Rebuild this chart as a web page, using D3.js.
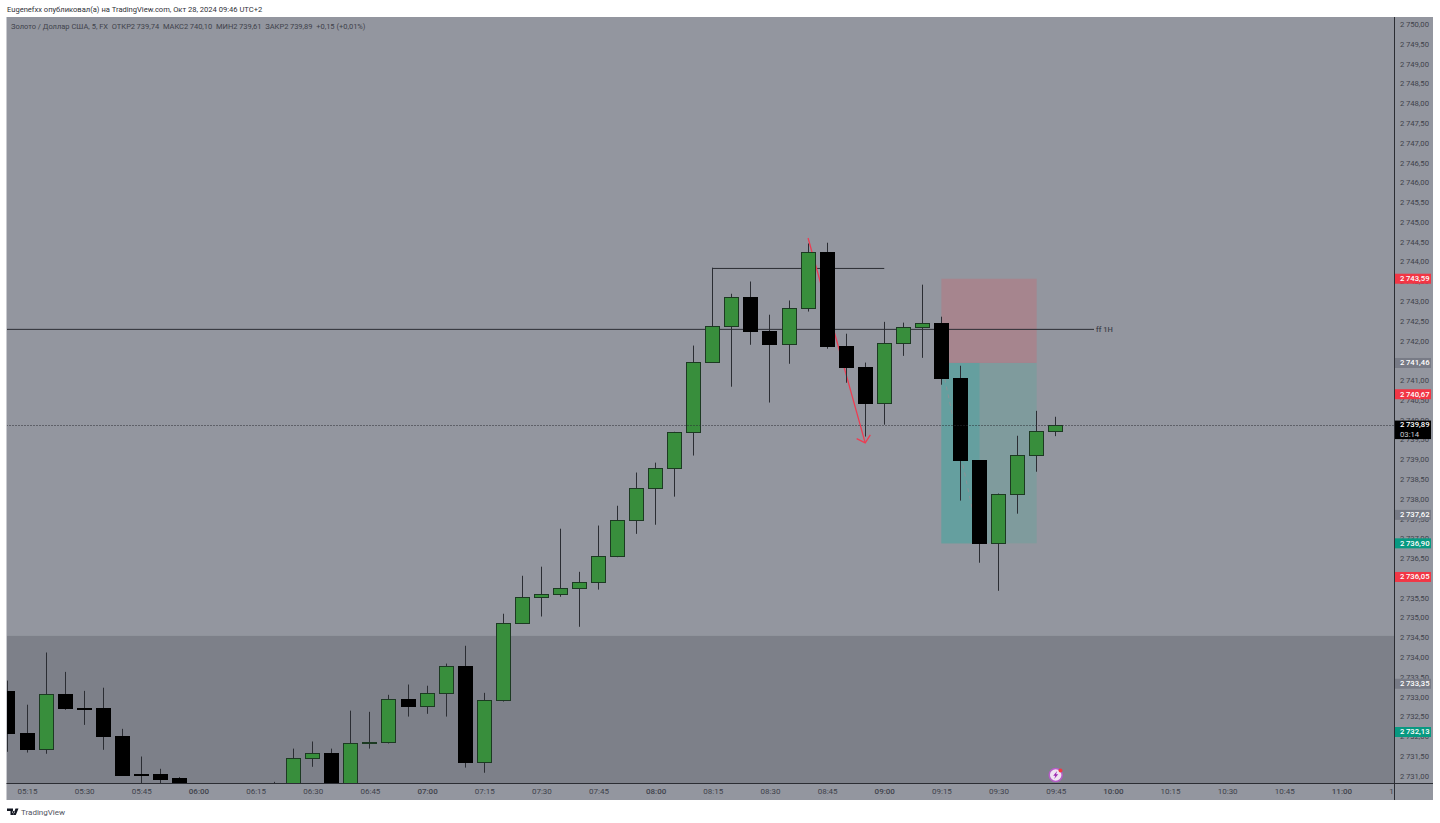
<!DOCTYPE html>
<html><head><meta charset="utf-8">
<script src="https://cdnjs.cloudflare.com/ajax/libs/d3/7.8.5/d3.min.js"></script>
<style>html,body{margin:0;padding:0;background:#fff;overflow:hidden}svg{display:block}text{font-family:Roboto,sans-serif}</style>
</head><body><svg id="c" width="1440" height="823"></svg>
<script>
const times=["05:10","05:15","05:20","05:25","05:30","05:35","05:40","05:45","05:50","05:55","06:20","06:25","06:30","06:35","06:40","06:45","06:50","06:55","07:00","07:05","07:10","07:15","07:20","07:25","07:30","07:35","07:40","07:45","07:50","07:55","08:00","08:05","08:10","08:15","08:20","08:25","08:30","08:35","08:40","08:45","08:50","08:55","09:00","09:05","09:10","09:15","09:20","09:25","09:30","09:35","09:40","09:45"];
const opens=[2733.15,2732.09,2731.68,2733.07,2732.73,2732.72,2732.01,2731.05,2731.05,2730.95,2730.50,2730.80,2731.46,2731.58,2730.65,2731.83,2731.86,2732.95,2732.77,2733.10,2733.78,2731.35,2732.92,2734.87,2735.53,2735.60,2735.75,2735.91,2736.56,2737.47,2738.28,2738.79,2739.70,2741.48,2742.38,2743.11,2742.25,2741.92,2742.83,2744.25,2741.87,2741.34,2740.43,2741.95,2742.35,2742.45,2741.06,2738.99,2736.89,2738.13,2739.12,2739.74];
const highs=[2733.43,2732.82,2734.14,2733.65,2733.17,2733.25,2732.21,2731.51,2731.20,2730.99,2730.87,2731.71,2731.89,2731.71,2732.67,2732.64,2733.07,2733.33,2733.30,2733.86,2734.31,2733.12,2735.12,2736.08,2736.31,2737.27,2736.18,2737.35,2737.85,2738.69,2738.94,2739.72,2741.90,2743.87,2743.21,2743.52,2742.68,2743.04,2744.48,2744.50,2742.20,2741.47,2742.50,2742.48,2743.44,2742.63,2741.39,2738.99,2738.16,2739.62,2740.25,2740.10];
const lows=[2731.63,2731.61,2731.58,2732.69,2732.31,2731.68,2731.03,2730.77,2730.65,2730.60,2730.30,2730.60,2731.25,2730.50,2730.50,2731.71,2731.84,2732.52,2732.59,2732.52,2731.23,2731.10,2732.90,2734.86,2735.05,2735.55,2734.79,2735.73,2736.55,2737.14,2737.37,2738.08,2739.12,2741.47,2740.86,2741.92,2740.46,2741.44,2742.76,2741.82,2740.96,2739.60,2739.90,2741.64,2741.59,2740.91,2737.98,2736.41,2735.70,2737.65,2738.71,2739.61];
const closes=[2732.09,2731.68,2733.07,2732.72,2732.71,2732.01,2731.03,2731.03,2730.92,2730.70,2730.75,2731.46,2731.58,2730.65,2731.83,2731.86,2732.95,2732.77,2733.10,2733.78,2731.35,2732.92,2734.87,2735.53,2735.60,2735.75,2735.91,2736.56,2737.47,2738.28,2738.79,2739.70,2741.48,2742.38,2743.11,2742.25,2741.92,2742.83,2744.25,2741.87,2741.34,2740.43,2741.95,2742.35,2742.45,2741.06,2738.99,2736.89,2738.13,2739.12,2739.72,2739.89];
const priceTicks=d3.range(0,39).map(i=>2731+i*0.5);
const timeTicks=["05:15","05:30","05:45","06:00","06:15","06:30","06:45","07:00","07:15","07:30","07:45","08:00","08:15","08:30","08:45","09:00","09:15","09:30","09:45","10:00","10:15","10:30","10:45","11:00","11:15"];
const labelPrices=[2743.59,2741.46,2740.67,2737.62,2736.90,2736.05,2733.35,2732.13];
const labelKinds=["red","gray","red","gray","teal","red","gray","teal"];
const lastPrice=2739.89, countdown="03:14";
const zoneTop=2734.56, levelPrice=2742.31, levelLabel="ff 1H";
const swingPrice=2743.85, swingStart="08:15", swingEnd="09:00";
const entryPrice=2741.46, stopPrice=2743.59, targetPrice=2736.90, posStart="09:15", posSplit="09:25", posEnd="09:40";
const arrowFrom={t:"08:40",p:2744.62}, arrowTo={t:"08:55",p:2739.44};
const headerText="Eugenefxx опубликовал(а) на TradingView.com, Окт 28, 2024 09:46 UTC+2";
const legendText="Золото / Доллар США, 5, FX  ОТКР2\u2009739,74  МАКС2\u2009740,10  МИН2\u2009739,61  ЗАКР2\u2009739,89  +0,15 (+0,01%)";

const L=6.5,R=1433,T=17,B=800,AX=1394,AY=783;
const mins=s=>{const[a,b]=s.split(":");return +a*60+ +b};
const x=d3.scaleLinear().domain([mins("05:15"),mins("09:45")]).range([27,1055.7]);
const y=d3.scaleLinear().domain([2731,2750]).range([776.7,25.2]);
const fmt=v=>{const s=v.toFixed(2).replace(".",",");return s[0]+"\u2009"+s.slice(1)};
const svg=d3.select("#c");
const INK="#2b2d33", TXT="#3f424b", BG="#93969f";
const defs=svg.append("defs");
defs.append("clipPath").attr("id","plot").append("rect").attr("x",7).attr("y",T).attr("width",AX-7).attr("height",AY-T);
defs.append("clipPath").attr("id","tx").append("rect").attr("x",L).attr("y",AY).attr("width",AX-L).attr("height",B-AY);
svg.append("rect").attr("x",L).attr("y",T).attr("width",R-L).attr("height",B-T).attr("fill",BG);
const plot=svg.append("g").attr("clip-path","url(#plot)");
plot.append("rect").attr("x",L).attr("y",y(zoneTop)).attr("width",AX-L).attr("height",AY-y(zoneTop)).attr("fill","#7d8089");
// position tool
plot.append("rect").attr("x",x(mins(posStart))).attr("y",y(stopPrice)).attr("width",x(mins(posEnd))-x(mins(posStart))).attr("height",y(entryPrice)-y(stopPrice)).attr("fill","#a6858e");
plot.append("rect").attr("x",x(mins(posStart))).attr("y",y(entryPrice)).attr("width",x(mins(posEnd))-x(mins(posStart))).attr("height",y(targetPrice)-y(entryPrice)).attr("fill","#7f9b9d");
plot.append("rect").attr("x",x(mins(posStart))).attr("y",y(entryPrice)).attr("width",x(mins(posSplit))-x(mins(posStart))).attr("height",y(targetPrice)-y(entryPrice)).attr("fill","#659f9f");
plot.append("line").attr("x1",x(mins(posStart))).attr("y1",y(entryPrice)).attr("x2",x(mins(posSplit))).attr("y2",y(targetPrice)).attr("stroke","#8d9297").attr("stroke-dasharray","4 4");
// level line
plot.append("line").attr("x1",L).attr("x2",1094).attr("y1",y(levelPrice)).attr("y2",y(levelPrice)).attr("stroke",INK);
plot.append("text").attr("x",1096).attr("y",y(levelPrice)+3).attr("font-size",7.5).attr("font-weight",500).attr("fill",TXT).text(levelLabel);
// swing line
const cx=t=>Math.floor(x(mins(t)))+.5;
plot.append("line").attr("x1",cx(swingStart)).attr("x2",x(mins(swingEnd))).attr("y1",y(swingPrice)).attr("y2",y(swingPrice)).attr("stroke",INK);
// arrow
const ax0=x(mins(arrowFrom.t)),ay0=y(arrowFrom.p),ax1=x(mins(arrowTo.t)),ay1=y(arrowTo.p);
const ang=Math.atan2(ay1-ay0,ax1-ax0),hl=9.5;
const arrow=d3.line();
plot.append("path").attr("d",arrow([[ax0,ay0],[ax1,ay1]])).attr("stroke","#ee3c52").attr("stroke-width",1.3).attr("fill","none");
plot.append("path").attr("d",arrow([[ax1+hl*Math.cos(ang+2.3),ay1+hl*Math.sin(ang+2.3)],[ax1,ay1],[ax1+hl*Math.cos(ang-2.3),ay1+hl*Math.sin(ang-2.3)]])).attr("stroke","#ee3c52").attr("stroke-width",1.3).attr("fill","none");
// candles
const bars=times.map((t,i)=>({t,o:opens[i],h:highs[i],l:lows[i],c:closes[i]}));
const W=14;
const g=plot.append("g").selectAll("g").data(bars).join("g");
g.append("line").attr("x1",d=>cx(d.t)).attr("x2",d=>cx(d.t)).attr("y1",d=>y(d.h)).attr("y2",d=>y(d.l)).attr("stroke",INK);
g.append("rect").attr("x",d=>cx(d.t)-W/2).attr("width",W)
 .attr("y",d=>Math.floor(y(Math.max(d.o,d.c)))+.5).attr("height",d=>Math.max(1,Math.round(Math.abs(y(d.o)-y(d.c)))))
 .attr("fill",d=>d.c>=d.o?"#388e3c":"#000").attr("stroke",d=>d.c>=d.o?"#1c3a22":"#000");
// last price line
const lpY=Math.round(y(lastPrice))+.5;
plot.append("line").attr("x1",L).attr("x2",AX).attr("y1",lpY).attr("y2",lpY).attr("stroke","#2b2d33").attr("stroke-dasharray","1 2");
// marker
const mk=plot.append("g").attr("transform",`translate(${x(mins("09:45"))},775)`);
mk.append("circle").attr("r",6.5).attr("fill","#efe3f2").attr("stroke","#b45cc6").attr("stroke-width",1.5);
mk.append("path").attr("d","M1.5,-4 L-2.5,0.8 L-0.3,0.8 L-1.5,4 L2.5,-0.8 L0.3,-0.8Z").attr("fill","#9c27b0");
mk.append("circle").attr("cx",4.8).attr("cy",-4.5).attr("r",2).attr("fill","#f23645");
// price axis
const yAxis=d3.axisRight(y).tickValues(priceTicks).tickSize(0).tickPadding(6).tickFormat(fmt);
const yg=svg.append("g").attr("transform",`translate(${AX},-1)`).call(yAxis);
yg.select(".domain").remove();
yg.selectAll("text").attr("font-size",7.7).attr("font-family","Roboto,sans-serif").attr("fill",TXT);
// time axis
const xAxis=d3.axisBottom(x).tickValues(timeTicks.map(mins)).tickSize(0).tickPadding(5)
 .tickFormat(v=>timeTicks.find(t=>mins(t)===v));
const xclip=svg.append("g").attr("clip-path","url(#tx)");
xclip.append("g").attr("transform",`translate(0,${AY})`).call(xAxis).call(s=>s.select(".domain").remove());
xclip.selectAll("text").attr("font-size",8).attr("font-family","Roboto,sans-serif").attr("fill",TXT)
 .attr("font-weight",v=>v%60===0?500:400);
// axis lines
svg.append("line").attr("x1",AX+.5).attr("x2",AX+.5).attr("y1",T).attr("y2",B).attr("stroke",INK);
svg.append("line").attr("x1",L).attr("x2",R).attr("y1",AY+.5).attr("y2",AY+.5).attr("stroke",INK);
// price labels
const kindFill={red:"#f23645",gray:"#787b86",teal:"#089981"};
const lab=svg.append("g").selectAll("g").data(labelPrices).join("g").attr("transform",d=>`translate(1395,${y(d)})`);
lab.append("rect").attr("y",-5).attr("width",36).attr("height",10).attr("fill",(d,i)=>kindFill[labelKinds[i]]);
lab.append("text").attr("x",5).attr("y",2.4).attr("font-size",7.7).attr("font-weight",500).attr("fill","#fff").text(fmt);
const ly=y(lastPrice);
svg.append("rect").attr("x",1395).attr("y",ly-4.5).attr("width",36).attr("height",18.5).attr("fill","#000");
svg.append("text").attr("x",1400).attr("y",ly+2.4).attr("font-size",7.7).attr("font-weight",500).attr("fill","#fff").text(fmt(lastPrice));
svg.append("text").attr("x",1400).attr("y",ly+11.5).attr("font-size",7.7).attr("fill","#c9cbd1").text(countdown);
// texts
svg.append("text").attr("x",7).attr("y",12).attr("font-size",7.57).attr("fill","#2f3138").attr("xml:space","preserve").text(headerText);
svg.append("text").attr("x",11).attr("y",29).attr("font-size",7.5).attr("fill",TXT).attr("xml:space","preserve").text(legendText);
// footer logo
svg.append("path").attr("d","M7,808.5H13V815H10.5V811H7ZM13.5,811a1.2,1.2 0 1 0 .01,0ZM15.5,808.5H18.5L15.8,815H13Z").attr("fill","#131722");
svg.append("text").attr("x",21).attr("y",815).attr("font-size",8).attr("fill","#50535e").text("TradingView");
</script></body></html>
